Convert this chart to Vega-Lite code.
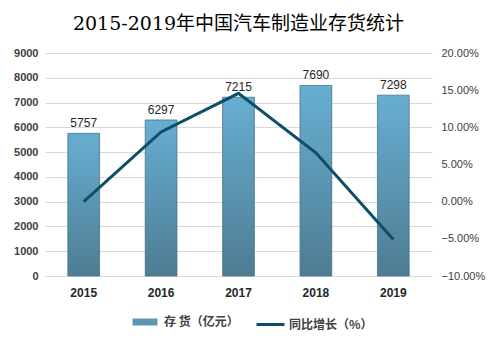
{
  "$schema": "https://vega.github.io/schema/vega-lite/v6.json",
  "width": 387,
  "height": 223,
  "autosize": {"type": "none"},
  "padding": {"left": 45, "top": 53, "right": 59, "bottom": 64},
  "background": "white",
  "title": {
    "text": "2015-2019年中国汽车制造业存货统计",
    "font": "DejaVu Serif, Noto Sans CJK SC",
    "fontSize": 19,
    "fontWeight": "normal",
    "color": "#000000",
    "anchor": "middle",
    "offset": 13
  },
  "data": {
    "values": [
      {"year": "2015", "inventory": 5757, "growth": 0.0, "s1": "存 货（亿元）", "s2": "同比增长（%）"},
      {"year": "2016", "inventory": 6297, "growth": 0.0938, "s1": "存 货（亿元）", "s2": "同比增长（%）"},
      {"year": "2017", "inventory": 7215, "growth": 0.1458, "s1": "存 货（亿元）", "s2": "同比增长（%）"},
      {"year": "2018", "inventory": 7690, "growth": 0.0658, "s1": "存 货（亿元）", "s2": "同比增长（%）"},
      {"year": "2019", "inventory": 7298, "growth": -0.051, "s1": "存 货（亿元）", "s2": "同比增长（%）"}
    ]
  },
  "encoding": {
    "x": {
      "field": "year",
      "type": "nominal",
      "scale": {"paddingInner": 0.59, "paddingOuter": 0.295},
      "axis": {
        "title": null,
        "labelAngle": 0,
        "labelFont": "Liberation Sans",
        "labelFontSize": 12,
        "labelFontWeight": "bold",
        "labelColor": "#262626",
        "labelPadding": 11,
        "ticks": false,
        "domainColor": "#d9d9d9",
        "grid": false
      }
    }
  },
  "layer": [
    {
      "encoding": {
        "y": {
          "field": "inventory",
          "type": "quantitative",
          "scale": {"domain": [0, 9000], "nice": false},
          "axis": {
            "title": null,
            "values": [0, 1000, 2000, 3000, 4000, 5000, 6000, 7000, 8000, 9000],
            "format": "d",
            "grid": true,
            "gridColor": "#d9d9d9",
            "domain": false,
            "ticks": false,
            "labelFont": "Liberation Sans",
            "labelFontSize": 11,
            "labelFontWeight": "bold",
            "labelColor": "#404040",
            "labelPadding": 7
          }
        }
      },
      "layer": [
        {
          "mark": {
            "type": "bar",
            "stroke": "#44728a",
            "strokeWidth": 0.8,
            "fill": {"gradient": "linear", "x1": 0, "y1": 0, "x2": 0, "y2": 1,
                     "stops": [{"offset": 0, "color": "#67aed2"}, {"offset": 1, "color": "#4e7c92"}]}
          }
        },
        {
          "mark": {"type": "bar", "opacity": 0},
          "encoding": {
            "fill": {
              "field": "s1",
              "type": "nominal",
              "scale": {"range": ["#5b96b3"]},
              "legend": {
                "orient": "none",
                "legendX": 87,
                "legendY": 256,
                "title": null,
                "symbolType": "M-1,-0.28H1V0.28H-1Z",
                "symbolSize": 625,
                "symbolOpacity": 1,
                "symbolStrokeColor": "#44728a",
                "symbolStrokeWidth": 0.8,
                "labelFont": "Noto Sans CJK SC",
                "labelFontSize": 12,
                "labelFontWeight": "bold",
                "labelColor": "#404040",
                "labelOffset": 6,
                "encode": {
                  "symbols": {
                    "update": {
                      "opacity": {"value": 1},
                      "fill": {"value": {"gradient": "linear", "x1": 0, "y1": 0, "x2": 0, "y2": 1,
                        "stops": [{"offset": 0, "color": "#67aed2"}, {"offset": 1, "color": "#4e7c92"}]}}
                    }
                  }
                }
              }
            }
          }
        },
        {
          "mark": {
            "type": "text",
            "dy": -10,
            "font": "Liberation Sans",
            "fontSize": 12,
            "color": "#262626"
          },
          "encoding": {
            "text": {"field": "inventory", "type": "quantitative", "format": "d"}
          }
        }
      ]
    },
    {
      "mark": {
        "type": "line",
        "strokeWidth": 3
      },
      "encoding": {
        "y": {
          "field": "growth",
          "type": "quantitative",
          "scale": {"domain": [-0.1, 0.2], "nice": false, "zero": false},
          "axis": {
            "title": null,
            "orient": "right",
            "values": [-0.1, -0.05, 0, 0.05, 0.1, 0.15, 0.2],
            "format": ".2%",
            "grid": false,
            "domain": false,
            "ticks": false,
            "labelFont": "Liberation Sans",
            "labelFontSize": 11,
            "labelColor": "#404040",
            "labelPadding": 9
          }
        },
        "stroke": {
          "field": "s2",
          "type": "nominal",
          "scale": {"range": ["#0d4f66"]},
          "legend": {
            "orient": "none",
            "legendX": 210,
            "legendY": 256,
            "title": null,
            "symbolType": "stroke",
            "symbolSize": 784,
            "symbolStrokeWidth": 3,
            "labelFont": "Noto Sans CJK SC",
            "labelFontSize": 12,
            "labelFontWeight": "bold",
            "labelColor": "#404040",
            "labelOffset": 3
          }
        }
      }
    }
  ],
  "resolve": {"scale": {"y": "independent", "fill": "independent", "stroke": "independent"}},
  "config": {
    "view": {"stroke": null}
  }
}
